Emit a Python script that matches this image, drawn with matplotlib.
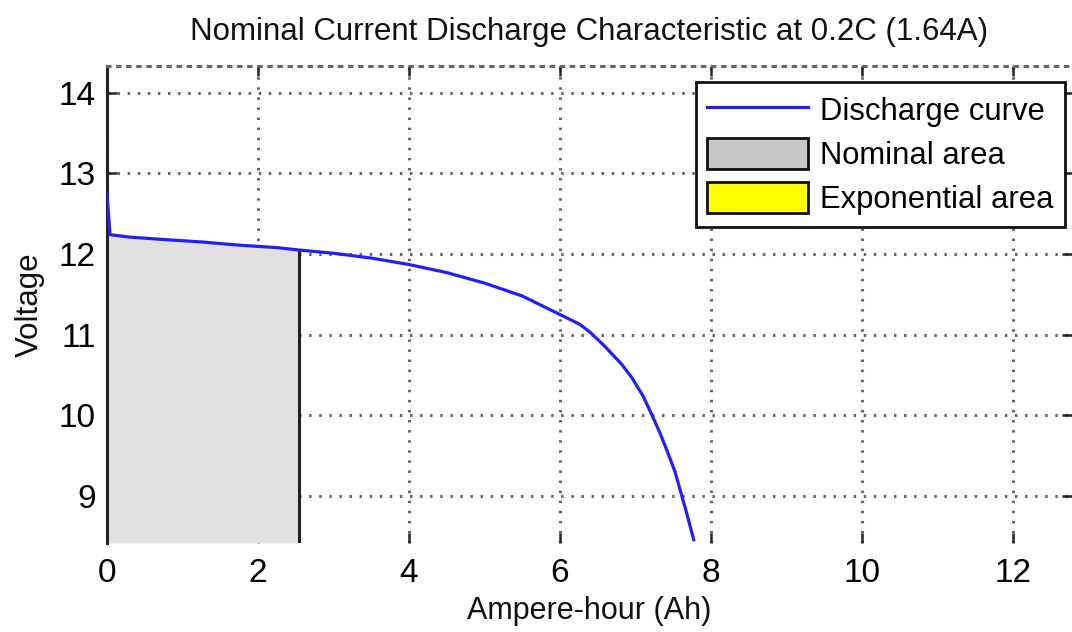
import matplotlib
matplotlib.use("Agg")
import matplotlib.pyplot as plt
from matplotlib.lines import Line2D
from matplotlib.patches import Patch
import numpy as np

# ---- data ----
capacity_ah = [0.0, 0.02, 0.04, 0.3, 0.75, 1.25, 1.75, 2.25, 2.54, 3.0, 3.5,
               4.0, 4.5, 5.0, 5.5, 6.0, 6.26, 6.4, 6.6, 6.82, 6.95, 7.1,
               7.21, 7.32, 7.41, 7.52, 7.59, 7.68, 7.77]
voltage = [12.75, 12.5, 12.24, 12.21, 12.18, 12.15, 12.11, 12.08, 12.05,
           12.01, 11.95, 11.87, 11.77, 11.64, 11.48, 11.25, 11.13, 11.03,
           10.85, 10.63, 10.47, 10.24, 10.02, 9.79, 9.58, 9.31, 9.08, 8.78,
           8.46]
nominal_end_ah = 2.54
x_ticks = [0, 2, 4, 6, 8, 10, 12]
y_ticks = [9, 10, 11, 12, 13, 14]
x_limits = (0, 12.78)
y_limits = (8.42, 14.33)
title = "Nominal Current Discharge Characteristic at 0.2C (1.64A)"
legend_labels = ["Discharge curve", "Nominal area", "Exponential area"]

plt.rcParams['font.family'] = ['Liberation Sans', 'DejaVu Sans']

fig = plt.figure(figsize=(10.72, 6.32), dpi=100)
ax = fig.add_axes([0.0998, 0.1408, 0.9002, 0.7548])

x = np.array(capacity_ah)
v = np.array(voltage)
mask = x <= nominal_end_ah
ax.fill_between(x[mask], y_limits[0], v[mask], color='#e1e1e1', lw=0, zorder=1)
ax.plot([nominal_end_ah, nominal_end_ah], [y_limits[0], v[mask][-1]],
        color='#222222', lw=2.2, zorder=2)
ax.plot(x, v, color='#2020ff', lw=2.3, zorder=3)

ax.set_xlim(*x_limits)
ax.set_ylim(*y_limits)
ax.set_xticks(x_ticks)
ax.set_yticks(y_ticks)

dot = (0, (0.8, 2.5))
ax.grid(True, color='#666666', linestyle=dot, linewidth=2.2)
ax.set_axisbelow(True)

for s in ['bottom', 'right']:
    ax.spines[s].set_visible(False)
ax.spines['top'].set_linestyle(dot)
ax.spines['top'].set_color('#666666')
ax.spines['top'].set_linewidth(2.2)
ax.spines['left'].set_linewidth(2.2)
ax.spines['left'].set_color('#222222')

ax.tick_params(axis='both', direction='in', length=7, width=1.8,
               top=True, right=True, labelsize=24, color='#222222')
ax.tick_params(axis='x', pad=11)
ax.tick_params(axis='y', pad=8)

ax.set_title(title, fontsize=22.5, pad=19, color='#111111')
ax.set_xlabel("Ampere-hour (Ah)", fontsize=22, labelpad=5, color='#111111')
ax.set_ylabel("Voltage", fontsize=22.5, labelpad=10, color='#111111')

handles = [Line2D([0], [0], color='#2020ff', lw=2.3),
           Patch(facecolor='#c8c8c8', edgecolor='#111111', lw=2),
           Patch(facecolor='#ffff00', edgecolor='#111111', lw=2)]
leg = ax.legend(handles, legend_labels, loc='upper right', fontsize=22.3,
                frameon=True, fancybox=False, handlelength=3.25,
                handleheight=1.15, handletextpad=0.38, labelspacing=0.37,
                borderaxespad=0, borderpad=0.38,
                bbox_to_anchor=(1065 / 1072, 1 - 82 / 632),
                bbox_transform=fig.transFigure)
leg.get_frame().set_edgecolor('#111111')
leg.get_frame().set_linewidth(2)
leg.get_frame().set_alpha(1)

fig.savefig('out.png', dpi=100)
